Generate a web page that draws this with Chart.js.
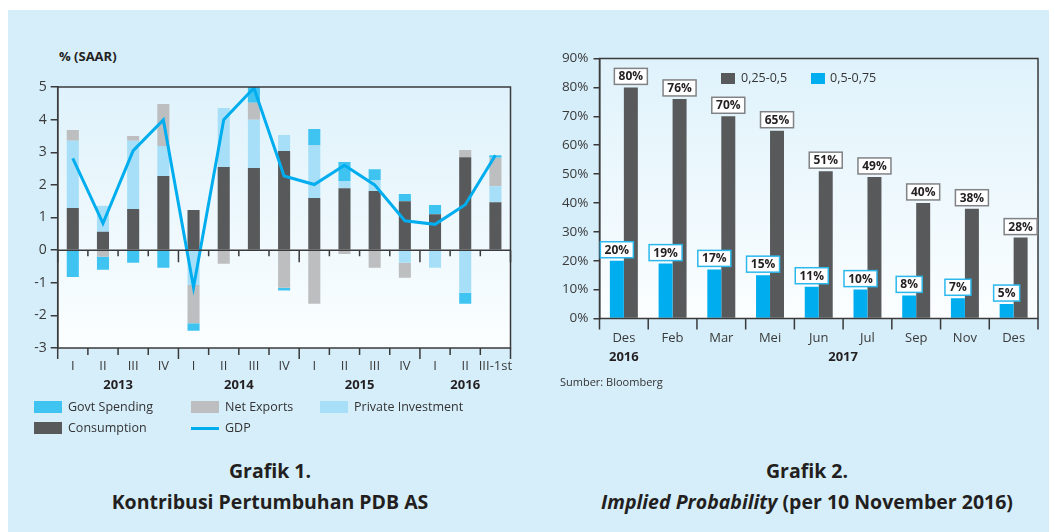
<!DOCTYPE html>
<html><head><meta charset="utf-8">
<script src="https://cdn.jsdelivr.net/npm/chart.js@4.4.1/dist/chart.umd.min.js"></script>
<style>
html,body{margin:0;padding:0;background:#fff;width:1055px;height:532px;overflow:hidden;font-family:'Open Sans',sans-serif;color:#231f20}
#panel{position:absolute;left:8px;top:10px;width:1041px;height:522px;background:#d6eefa}
canvas{position:absolute}
#c1{left:0;top:0}
#c2{left:540px;top:0}
.lt{position:absolute;font-size:12.5px;color:#333;white-space:nowrap;line-height:16px}
.sw{position:absolute}
.title{position:absolute;font-weight:bold;font-size:19.5px;text-align:center;line-height:31px;color:#231f20;white-space:nowrap}
</style></head>
<body>
<div id="panel"></div>
<div class="lt" style="left:59px;top:48px;font-weight:bold;font-size:13px;color:#231f20">% (SAAR)</div>
<canvas id="c1" width="540" height="400"></canvas>
<canvas id="c2" width="515" height="400"></canvas>

<div class="sw" style="left:34px;top:401px;width:28px;height:12px;background:#3fc4f2"></div>
<div class="lt" style="left:68px;top:399px">Govt Spending</div>
<div class="sw" style="left:191px;top:401px;width:28px;height:12px;background:#bcbec0"></div>
<div class="lt" style="left:225px;top:399px">Net Exports</div>
<div class="sw" style="left:320px;top:401px;width:28px;height:12px;background:#a7dff8"></div>
<div class="lt" style="left:354px;top:399px">Private Investment</div>
<div class="sw" style="left:34px;top:422px;width:28px;height:12px;background:#58595b"></div>
<div class="lt" style="left:68px;top:420px">Consumption</div>
<div class="sw" style="left:191px;top:427px;width:28px;height:3px;background:#00aeef"></div>
<div class="lt" style="left:225px;top:420px">GDP</div>

<div class="sw" style="left:721px;top:73px;width:14px;height:11px;background:#58595b"></div>
<div class="lt" style="left:741px;top:70px;font-size:12.5px">0,25-0,5</div>
<div class="sw" style="left:811px;top:73px;width:14px;height:11px;background:#00aeef"></div>
<div class="lt" style="left:830px;top:70px;font-size:12.5px">0,5-0,75</div>

<div class="lt" style="left:560px;top:374px;font-size:11px">Sumber: Bloomberg</div>

<div class="title" style="left:70px;top:455px;width:400px">Grafik 1.<br>Kontribusi Pertumbuhan PDB AS</div>
<div class="title" style="left:557px;top:455px;width:500px">Grafik 2.<br><i>Implied Probability</i> (per 10 November 2016)</div>

<script>
// ---------- Grafik 1 data ----------
const quarterLabels = ['I','II','III','IV','I','II','III','IV','I','II','III','IV','I','II','III-1st'];
const yearLabels1 = ['2013','2014','2015','2016'];
const yearSpan1 = [4,4,4,3];
const consumption = [1.29,0.56,1.26,2.27,1.23,2.55,2.52,3.04,1.60,1.90,1.81,1.50,1.10,2.85,1.47];
const privateInvestment = [2.06,0.80,2.09,0.92,-1.07,1.81,1.48,0.49,1.62,0.22,0.34,-0.39,-0.54,-1.31,0.49];
const netExports = [0.33,-0.20,0.15,1.29,-1.17,-0.42,0.52,-1.15,-1.64,-0.12,-0.54,-0.46,0,0.22,0.87];
const govtSpending = [-0.82,-0.40,-0.39,-0.54,-0.23,0,0.48,-0.09,0.49,0.58,0.33,0.22,0.28,-0.33,0.08];
const gdp = [2.81,0.82,3.05,3.99,-1.14,4.00,4.97,2.27,2.01,2.60,2.00,0.90,0.79,1.39,2.91];

// ---------- Grafik 2 data ----------
const monthLabels = ['Des','Feb','Mar','Mei','Jun','Jul','Sep','Nov','Des'];
const yearLabels2 = ['2016','2017'];
const yearSpan2 = [1,8];
const range025_05 = [80,76,70,65,51,49,40,38,28];
const range05_075 = [20,19,17,15,11,10,8,7,5];

const AX = '#3a3a3a';
const FONT = 'Open Sans';

const bgGrad = { id:'bgGrad', beforeDraw(chart){
  const {ctx, chartArea:a} = chart;
  const g = ctx.createLinearGradient(0,a.top,0,a.bottom);
  g.addColorStop(0,'#dff2fb'); g.addColorStop(1,'#fbfeff');
  ctx.save(); ctx.fillStyle=g; ctx.fillRect(a.left,a.top,a.right-a.left,a.bottom-a.top); ctx.restore();
}};

function spanCenters(spans){ const out=[]; let s=0; spans.forEach(n=>{ out.push(s+(n-1)/2); s+=n; }); return out; }
function spanStarts(spans){ const out=[0]; let s=0; spans.forEach(n=>{ s+=n; out.push(s); }); return out; }

const frame1 = { id:'frame1', afterDatasetsDraw(chart){
  const {ctx, chartArea:a, scales:{x,y}} = chart;
  ctx.save();
  ctx.strokeStyle=AX; ctx.lineWidth=1.5;
  ctx.strokeRect(a.left,a.top,a.right-a.left,a.bottom-a.top);
  const y0 = y.getPixelForValue(0);
  const starts = spanStarts(yearSpan1);
  ctx.beginPath();
  ctx.moveTo(a.left,y0); ctx.lineTo(a.right,y0);
  for(let k=0;k<=quarterLabels.length;k++){
    const px = x.getPixelForValue(k-0.5);
    const long = starts.includes(k);
    ctx.moveTo(px,y0); ctx.lineTo(px,y0+(long?12:6));
    ctx.moveTo(px,a.bottom); ctx.lineTo(px,a.bottom+(long?11:7));
  }
  ctx.stroke();
  ctx.fillStyle='#231f20'; ctx.font='bold 13px "'+FONT+'"'; ctx.textAlign='center'; ctx.textBaseline='middle';
  spanCenters(yearSpan1).forEach((c,i)=>ctx.fillText(yearLabels1[i], x.getPixelForValue(c), a.bottom+37));
  ctx.restore();
}};

new Chart(document.getElementById('c1'), {
  type:'bar',
  data:{ labels: quarterLabels, datasets:[
    {type:'line', label:'GDP', data:gdp, borderColor:'#00aeef', borderWidth:3, pointRadius:0, tension:0, stack:'gdp', fill:false},
    {label:'Consumption', data:consumption, backgroundColor:'#58595b', stack:'s'},
    {label:'Private Investment', data:privateInvestment, backgroundColor:'#a7dff8', stack:'s'},
    {label:'Net Exports', data:netExports, backgroundColor:'#bcbec0', stack:'s'},
    {label:'Govt Spending', data:govtSpending, backgroundColor:'#3fc4f2', stack:'s'}
  ]},
  options:{
    responsive:false, animation:false, devicePixelRatio:1,
    layout:{padding:{top:87,left:0,right:29.5,bottom:0}},
    plugins:{legend:{display:false}, tooltip:{enabled:false}},
    datasets:{bar:{barPercentage:0.4, categoryPercentage:1}},
    scales:{
      x:{stacked:true, offset:true, grid:{display:false, drawTicks:false}, border:{display:false},
         ticks:{color:AX, font:{family:FONT,size:13}, padding:10, maxRotation:0, autoSkip:false},
         afterFit(s){ s.height=52; s.paddingLeft=0; s.paddingRight=0; }},
      y:{stacked:true, min:-3, max:5,
         ticks:{stepSize:1, color:AX, font:{family:FONT,size:14}, padding:4},
         grid:{drawOnChartArea:false, drawTicks:true, tickLength:7, color:AX, lineWidth:1.5},
         border:{display:true, color:AX, width:1.5},
         afterFit(s){ s.width=57.7; s.paddingTop=0; s.paddingBottom=0; }}
    }
  },
  plugins:[bgGrad, frame1]
});

const frame2 = { id:'frame2', afterDatasetsDraw(chart){
  const {ctx, chartArea:a, scales:{x}} = chart;
  ctx.save();
  ctx.strokeStyle=AX; ctx.lineWidth=1.5;
  ctx.strokeRect(a.left,a.top,a.right-a.left,a.bottom-a.top);
  ctx.beginPath();
  for(let k=0;k<=monthLabels.length;k++){
    const px = x.getPixelForValue(k-0.5);
    ctx.moveTo(px,a.bottom); ctx.lineTo(px,a.bottom+11);
  }
  ctx.stroke();
  ctx.fillStyle='#231f20'; ctx.font='bold 13px "'+FONT+'"'; ctx.textAlign='center'; ctx.textBaseline='middle';
  spanCenters(yearSpan2).forEach((c,i)=>ctx.fillText(yearLabels2[i], x.getPixelForValue(c), a.bottom+38.5));
  // value boxes
  ctx.font='bold 12px "'+FONT+'"';
  chart.data.datasets.forEach((ds,di)=>{
    const meta = chart.getDatasetMeta(di);
    meta.data.forEach((bar,j)=>{
      const txt = ds.data[j]+'%';
      const w = Math.round(ctx.measureText(txt).width)+8, h=16;
      const bx = bar.x - w/2, by = bar.y - 3 - h;
      ctx.fillStyle='#fff'; ctx.fillRect(bx,by,w,h);
      ctx.strokeStyle = di===0 ? '#2cb8ec' : '#808285'; ctx.lineWidth=1.5;
      ctx.strokeRect(bx,by,w,h);
      ctx.fillStyle='#231f20'; ctx.fillText(txt, bar.x, by+h/2+0.5);
    });
  });
  ctx.restore();
}};

new Chart(document.getElementById('c2'), {
  type:'bar',
  data:{ labels: monthLabels, datasets:[
    {label:'0,5-0,75', data:range05_075, backgroundColor:'#00aeef'},
    {label:'0,25-0,5', data:range025_05, backgroundColor:'#58595b'}
  ]},
  options:{
    responsive:false, animation:false, devicePixelRatio:1,
    layout:{padding:{top:58.5,left:0,right:17,bottom:0}},
    plugins:{legend:{display:false}, tooltip:{enabled:false}},
    datasets:{bar:{barPercentage:1, categoryPercentage:0.574}},
    scales:{
      x:{offset:true, grid:{display:false, drawTicks:false}, border:{display:false},
         ticks:{color:AX, font:{family:FONT,size:13}, padding:11.5, maxRotation:0, autoSkip:false},
         afterFit(s){ s.height=81.5; s.paddingLeft=0; s.paddingRight=0; }},
      y:{min:0, max:90,
         ticks:{stepSize:10, color:AX, font:{family:FONT,size:13.5}, padding:5, callback:v=>v+'%'},
         grid:{drawOnChartArea:false, drawTicks:true, tickLength:6, color:AX, lineWidth:1.5},
         border:{display:true, color:AX, width:1.5},
         afterFit(s){ s.width=59.5; s.paddingTop=0; s.paddingBottom=0; }}
    }
  },
  plugins:[bgGrad, frame2]
});
</script>
</body></html>
